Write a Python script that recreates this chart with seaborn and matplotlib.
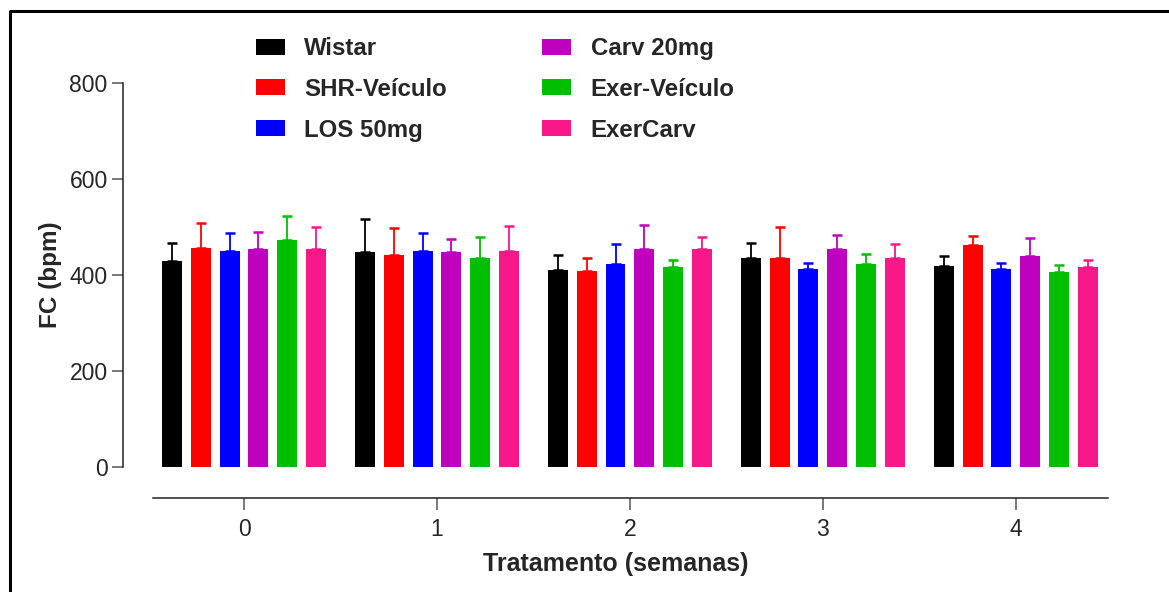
import matplotlib
matplotlib.use("Agg")
import matplotlib.pyplot as plt
import seaborn as sns
import pandas as pd
import numpy as np
from matplotlib.lines import Line2D

weeks = ["0", "1", "2", "3", "4"]
groups = ["Wistar", "SHR-Veículo", "LOS 50mg", "Carv 20mg", "Exer-Veículo", "ExerCarv"]

wistar = [430, 447, 410, 435, 418]
shr_veiculo = [456, 442, 408, 435, 462]
los_50mg = [451, 451, 422, 412, 412]
carv_20mg = [454, 447, 454, 454, 440]
exer_veiculo = [472, 436, 416, 422, 406]
exercarv = [454, 451, 454, 436, 417]

wistar_err = [37, 70, 31, 32, 22]
shr_veiculo_err = [53, 55, 28, 66, 20]
los_50mg_err = [37, 37, 43, 14, 14]
carv_20mg_err = [36, 28, 51, 30, 38]
exer_veiculo_err = [50, 44, 15, 21, 14]
exercarv_err = [45, 51, 25, 29, 14]

colors = ["#000000", "#FF0000", "#0000FF", "#BF00BF", "#00BF00", "#F7188A"]

means = [wistar, shr_veiculo, los_50mg, carv_20mg, exer_veiculo, exercarv]
errs = [wistar_err, shr_veiculo_err, los_50mg_err, carv_20mg_err, exer_veiculo_err, exercarv_err]

rows = []
for g, vals in zip(groups, means):
    for w, v in zip(weeks, vals):
        rows.append({"semana": w, "fc": v, "grupo": g})
df = pd.DataFrame(rows)

sns.set_style("white")
plt.rcParams["font.family"] = ["Liberation Sans", "DejaVu Sans"]

fig = plt.figure(figsize=(11.69, 5.92), dpi=100)
ax = fig.add_axes([123 / 1169, 1 - 498 / 592, (1108 - 123) / 1169, (498 - 83) / 592])

sns.barplot(data=df, x="semana", y="fc", hue="grupo", order=weeks, hue_order=groups,
            palette=colors, saturation=1, width=0.9, gap=0.31, errorbar=None,
            linewidth=0, ax=ax)

for cont, err, col in zip(ax.containers, errs, colors):
    xs = [p.get_x() + p.get_width() / 2 for p in cont.patches]
    ys = [p.get_height() for p in cont.patches]
    ax.errorbar(xs, ys, yerr=[np.zeros(len(err)), err], fmt="none", ecolor=col,
                elinewidth=1.3, capsize=3.4, capthick=1.8, zorder=1)

ax.set_ylim(-64.6, 800)
ax.set_xlim(-0.627, 4.477)
ax.set_yticks([0, 200, 400, 600, 800])
for s in ["top", "right"]:
    ax.spines[s].set_visible(False)
ax.spines["left"].set_bounds(0, 800)
ax.spines["bottom"].set_bounds(-0.47, 4.477)
for s in ["left", "bottom"]:
    ax.spines[s].set_linewidth(1.1)
    ax.spines[s].set_color("#222222")
ax.tick_params(axis="y", length=8, width=1.1, color="#555555", pad=3, labelsize=16.5, left=True)
ax.tick_params(axis="x", length=8.5, width=1.1, color="#555555", pad=6, labelsize=16.5, bottom=True)

ax.set_ylabel("FC (bpm)", fontsize=17.5, fontweight="bold", labelpad=10)
ax.yaxis.set_label_coords(-0.062, (498 - 275) / (498 - 83))
ax.set_xlabel("Tratamento (semanas)", fontsize=18, fontweight="bold", labelpad=8)

ax.legend(loc="upper left", bbox_to_anchor=(257 / 1169 - 0.001, 1 - 37 / 592),
          bbox_transform=fig.transFigure, ncol=2, frameon=False,
          prop={"weight": "bold", "size": 17.3}, handlelength=1.2, handleheight=0.65,
          handletextpad=0.82, columnspacing=3.95, labelspacing=0.74, borderpad=0,
          borderaxespad=0)

fig.add_artist(Line2D([9.5 / 1169, 9.5 / 1169, 1.0], [0.0, 1 - 10.5 / 592, 1 - 10.5 / 592],
                      transform=fig.transFigure, color="black", linewidth=2.2))

fig.savefig("out.png", dpi=100)
